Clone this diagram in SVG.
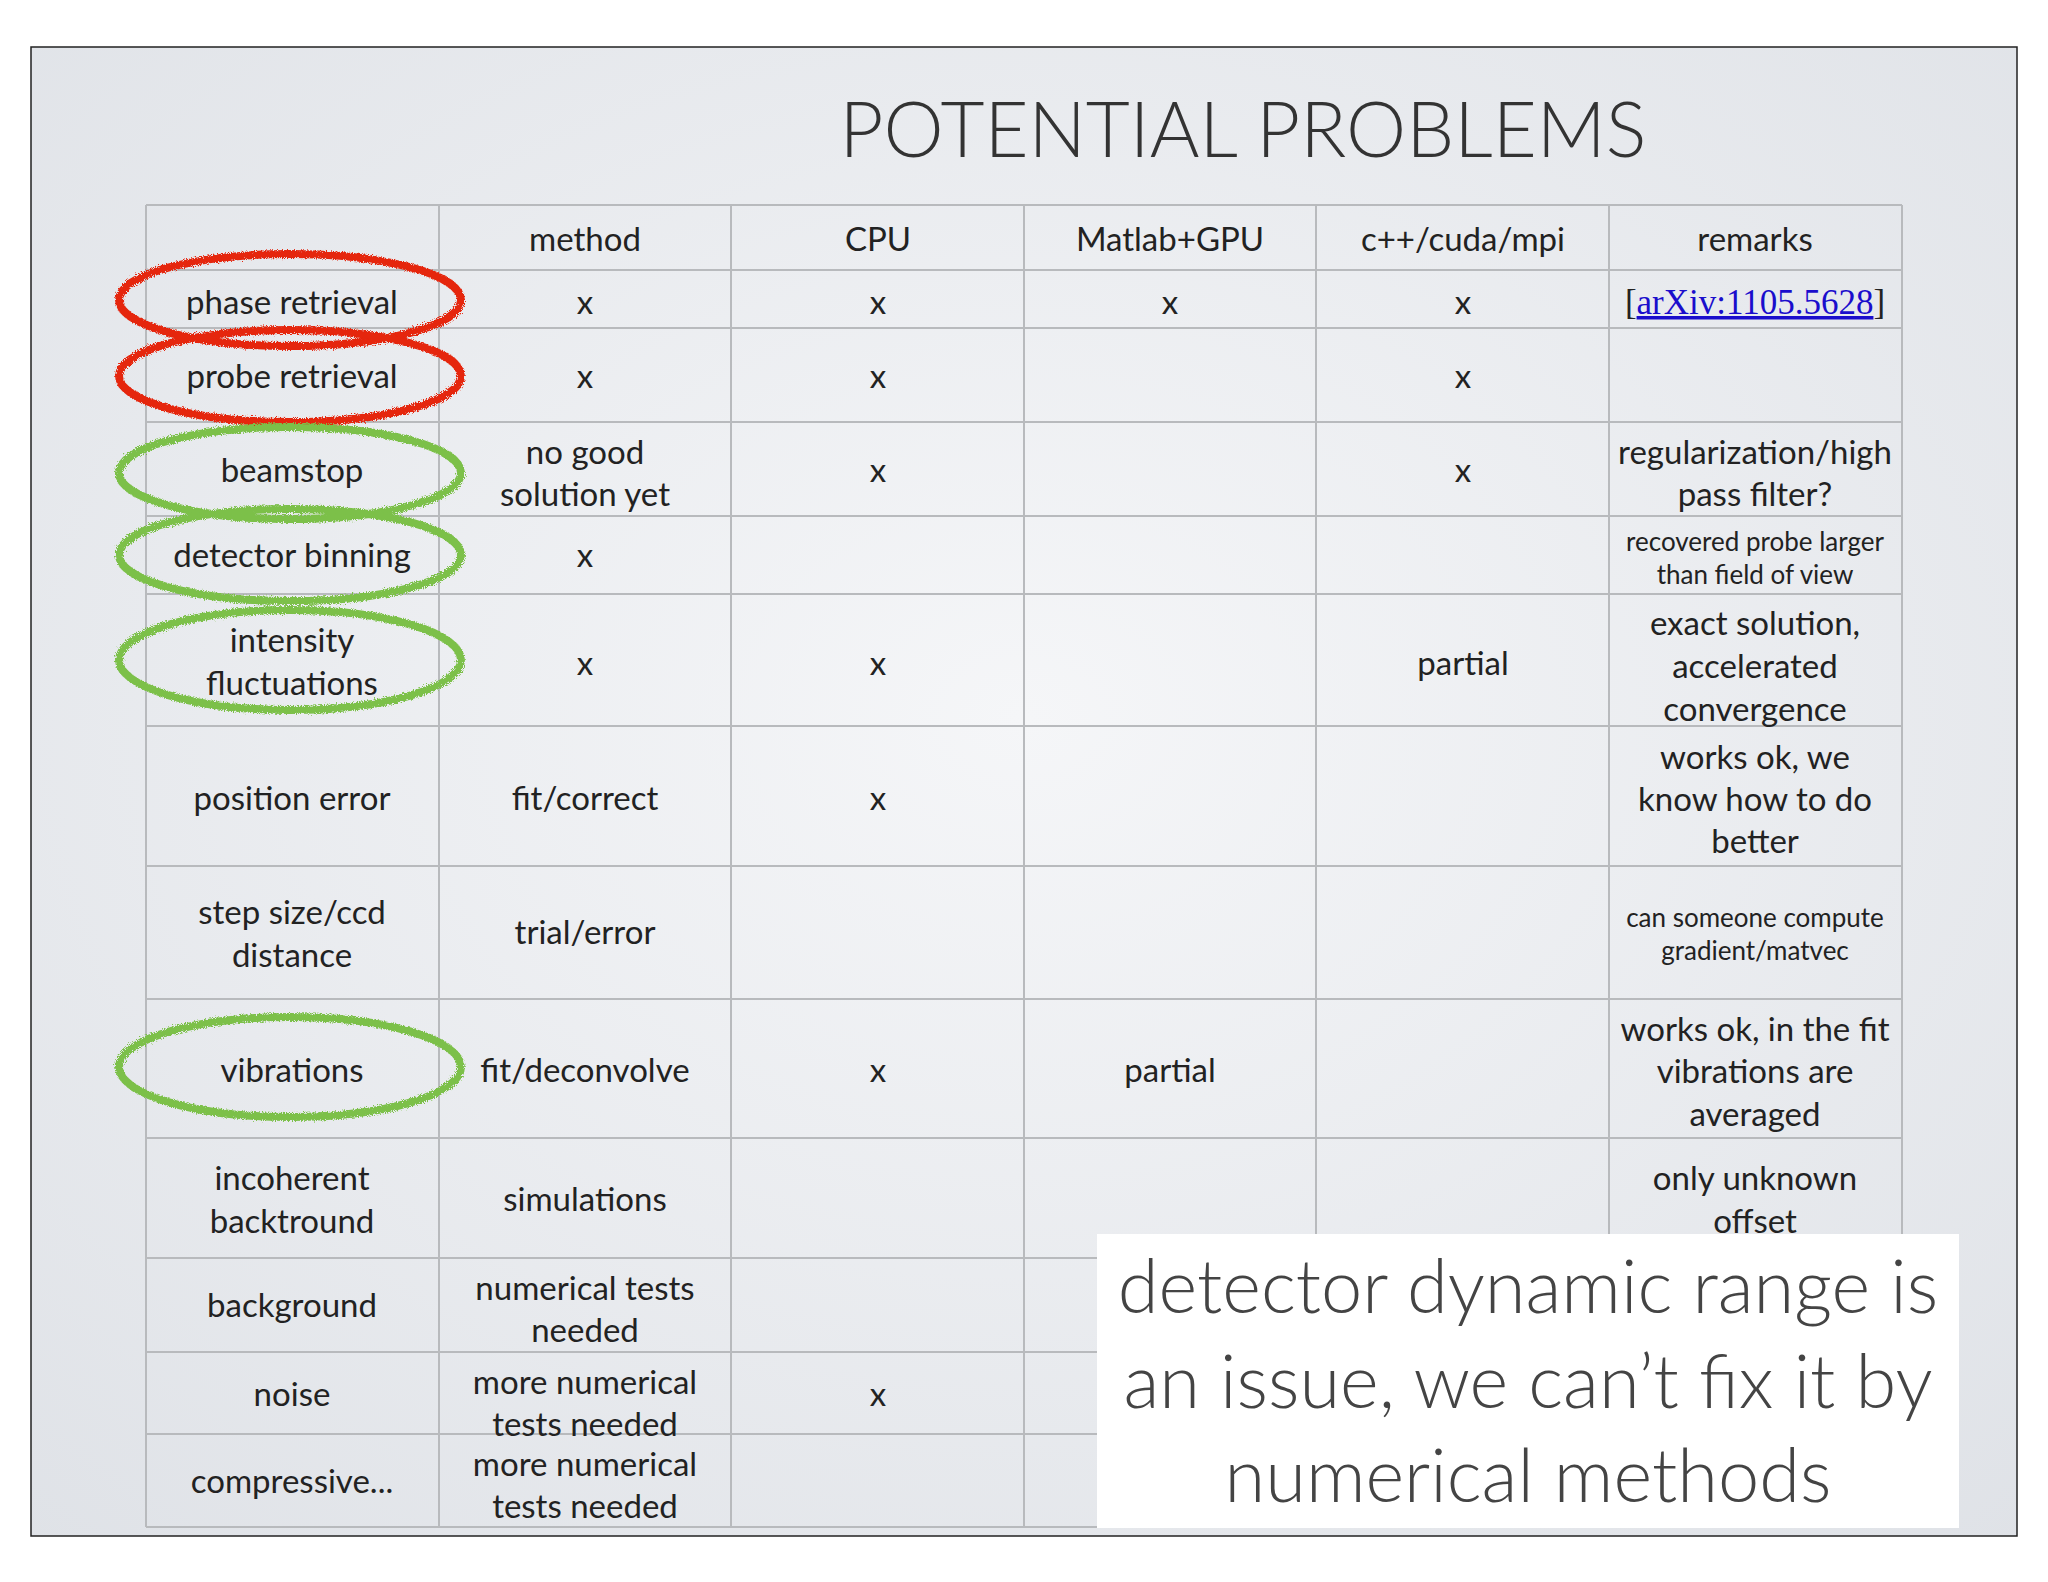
<svg xmlns="http://www.w3.org/2000/svg" width="2048" height="1582" viewBox="0 0 2048 1582">
<defs>
<radialGradient id="bg" cx="0.5" cy="0.45" r="0.75"><stop offset="0" stop-color="#f5f6f8"/><stop offset="1" stop-color="#dfe2e7"/></radialGradient>
<filter id="rough"><feTurbulence type="fractalNoise" baseFrequency="0.9" numOctaves="2" result="n"/><feDisplacementMap in="SourceGraphic" in2="n" scale="6"/></filter>
</defs>
<style>
.t{font-family:Lato,"Open Sans","Liberation Sans",sans-serif;font-size:33px;fill:#222;text-anchor:middle}
.s{font-size:26px}
.g{stroke:#b8babd;stroke-width:2;fill:none}
.r{fill:none;stroke:#e5260f;stroke-width:8;filter:url(#rough)}
.gr{fill:none;stroke:#7cc04a;stroke-width:8;filter:url(#rough)}
</style>
<rect width="2048" height="1582" fill="#fff"/>
<rect x="31" y="47" width="1986" height="1489" fill="url(#bg)" stroke="#222" stroke-width="1.5"/>
<text x="1243" y="157" font-family="Lato,'Open Sans',sans-serif" font-weight="300" font-size="76" fill="#333" text-anchor="middle">POTENTIAL PROBLEMS</text>
<g id="grid" class="g">
<path d="M146 205H1902M146 270H1902M146 328H1902M146 422H1902M146 516H1902M146 594H1902M146 726H1902M146 866H1902M146 999H1902M146 1138H1902M146 1258H1902M146 1352H1902M146 1434H1902M146 1527H1902"/>
<path d="M146 205V1527M439 205V1527M731 205V1527M1024 205V1527M1316 205V1527M1609 205V1527M1902 205V1527"/>
</g>
<g id="cells" class="t">
<text x="585" y="251">method</text><text x="878" y="251">CPU</text><text x="1170" y="251">Matlab+GPU</text><text x="1463" y="251">c++/cuda/mpi</text><text x="1755" y="251">remarks</text>
<text x="292" y="314">phase retrieval</text><text x="585" y="314">x</text><text x="878" y="314">x</text><text x="1170" y="314">x</text><text x="1463" y="314">x</text>
<text x="1755" y="314" style="font-family:'Liberation Serif',serif;font-size:35px">[<tspan fill="#1a0dcc" text-decoration="underline">arXiv:1105.5628</tspan>]</text>
<text x="292" y="388">probe retrieval</text><text x="585" y="388">x</text><text x="878" y="388">x</text><text x="1463" y="388">x</text>
<text x="292" y="482">beamstop</text><text x="585" y="464">no good</text><text x="585" y="506">solution yet</text><text x="878" y="482">x</text><text x="1463" y="482">x</text><text x="1755" y="464">regularization/high</text><text x="1755" y="506">pass filter?</text>
<text x="292" y="567">detector binning</text><text x="585" y="567">x</text><text class="t s" x="1755" y="551">recovered probe larger</text><text class="t s" x="1755" y="584">than field of view</text>
<text x="292" y="652">intensity</text><text x="292" y="695">fluctuations</text><text x="585" y="675">x</text><text x="878" y="675">x</text><text x="1463" y="675">partial</text><text x="1755" y="635">exact solution,</text><text x="1755" y="678">accelerated</text><text x="1755" y="721">convergence</text>
<text x="292" y="810">position error</text><text x="585" y="810">fit/correct</text><text x="878" y="810">x</text><text x="1755" y="769">works ok, we</text><text x="1755" y="811">know how to do</text><text x="1755" y="853">better</text>
<text x="292" y="924">step size/ccd</text><text x="292" y="967">distance</text><text x="585" y="944">trial/error</text><text class="t s" x="1755" y="927">can someone compute</text><text class="t s" x="1755" y="960">gradient/matvec</text>
<text x="292" y="1082">vibrations</text><text x="585" y="1082">fit/deconvolve</text><text x="878" y="1082">x</text><text x="1170" y="1082">partial</text><text x="1755" y="1041">works ok, in the fit</text><text x="1755" y="1083">vibrations are</text><text x="1755" y="1126">averaged</text>
<text x="292" y="1190">incoherent</text><text x="292" y="1233">backtround</text><text x="585" y="1211">simulations</text><text x="1755" y="1190">only unknown</text><text x="1755" y="1233">offset</text>
<text x="292" y="1317">background</text><text x="585" y="1300">numerical tests</text><text x="585" y="1342">needed</text>
<text x="292" y="1406">noise</text><text x="585" y="1394">more numerical</text><text x="585" y="1436">tests needed</text><text x="878" y="1406">x</text>
<text x="292" y="1493">compressive...</text><text x="585" y="1476">more numerical</text><text x="585" y="1518">tests needed</text>
</g>
<g id="circles">
<ellipse class="r" cx="290" cy="300" rx="171" ry="46"/>
<ellipse class="r" cx="290" cy="376" rx="171" ry="46"/>
<ellipse class="gr" cx="290" cy="473" rx="171" ry="46"/>
<ellipse class="gr" cx="290" cy="555" rx="171" ry="46"/>
<ellipse class="gr" cx="290" cy="660" rx="171" ry="50"/>
<ellipse class="gr" cx="290" cy="1067" rx="171" ry="50"/>
</g>
<g id="note">
<rect x="1097" y="1234" width="862" height="294" fill="#fff"/>
<g font-family="Lato,'Open Sans',sans-serif" font-weight="300" font-size="74" fill="#444" text-anchor="middle">
<text x="1528" y="1313">detector dynamic range is</text>
<text x="1528" y="1408">an issue, we can’t fix it by</text>
<text x="1528" y="1502">numerical methods</text>
</g>
</g>
</svg>
